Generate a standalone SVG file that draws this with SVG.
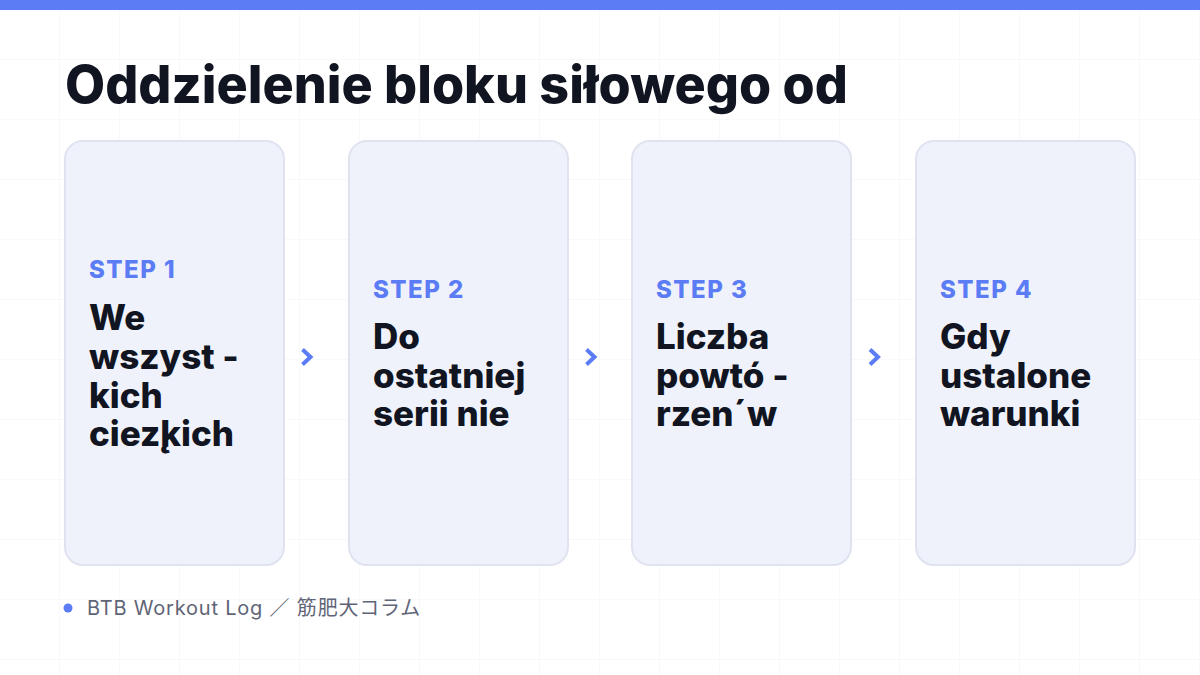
<svg xmlns="http://www.w3.org/2000/svg" width="1200" height="675" viewBox="0 0 1200 675">
<defs>
<pattern id="grid" width="60" height="60" patternUnits="userSpaceOnUse">
<path d="M60 0 V60 M0 60 H60" fill="none" stroke="#f1f2f5" stroke-width="1"/>
</pattern>
</defs>
<style>
.card{fill:#f0f2fb;stroke:#dfe3ef;stroke-width:2}
.step{font-family:Inter,"Liberation Sans",sans-serif;font-weight:800;font-size:24px;letter-spacing:1.5px;fill:#5b7cf5}
.body{font-family:Inter,"Liberation Sans",sans-serif;font-weight:800;font-size:35px;fill:#111522}
.title{font-family:Inter,"Liberation Sans",sans-serif;font-weight:800;font-size:52px;fill:#111522}
.foot{font-family:Inter,"Noto Sans CJK JP",sans-serif;font-size:20px;letter-spacing:0.8px;fill:#5f6577}
.chev{fill:none;stroke:#5b7cf5;stroke-width:4}
</style>
<rect width="1200" height="675" fill="#ffffff"/>
<rect width="1200" height="675" fill="url(#grid)"/>
<rect x="0" y="0" width="1200" height="10" fill="#5b7cf5"/>
<text class="title" x="65" y="103">Oddzielenie bloku siłowego od</text>
<g id="connectors">
<polyline class="chev" points="302.5,349.5 310.5,357 302.5,364.5"/>
<polyline class="chev" points="586.5,349.5 594.5,357 586.5,364.5"/>
<polyline class="chev" points="870,349.5 878,357 870,364.5"/>
</g>
<g id="step1">
<rect class="card" x="65" y="141" width="219" height="424" rx="18"/>
<text class="step" x="89" y="278">STEP 1</text>
<text class="body" x="89" y="330">We</text>
<text class="body" x="89" y="369">wszyst -</text>
<text class="body" x="89" y="408">kich</text>
<text class="body" x="89" y="446">ciez̨kich</text>
</g>
<g id="step2">
<rect class="card" x="349" y="141" width="219" height="424" rx="18"/>
<text class="step" x="373" y="298">STEP 2</text>
<text class="body" x="373" y="349">Do</text>
<text class="body" x="373" y="388">ostatniej</text>
<text class="body" x="373" y="426">serii nie</text>
</g>
<g id="step3">
<rect class="card" x="632" y="141" width="219" height="424" rx="18"/>
<text class="step" x="656" y="298">STEP 3</text>
<text class="body" x="656" y="349">Liczba</text>
<text class="body" x="656" y="388">powtó -</text>
<text class="body" x="656" y="426">rzen´w</text>
</g>
<g id="step4">
<rect class="card" x="916" y="141" width="219" height="424" rx="18"/>
<text class="step" x="940" y="298">STEP 4</text>
<text class="body" x="940" y="349">Gdy</text>
<text class="body" x="940" y="388">ustalone</text>
<text class="body" x="940" y="426">warunki</text>
</g>
<g id="footer">
<circle cx="68" cy="608" r="4.5" fill="#5b7cf5"/>
<text class="foot" x="87" y="615">BTB Workout Log ／ 筋肥大コラム</text>
</g>
</svg>
